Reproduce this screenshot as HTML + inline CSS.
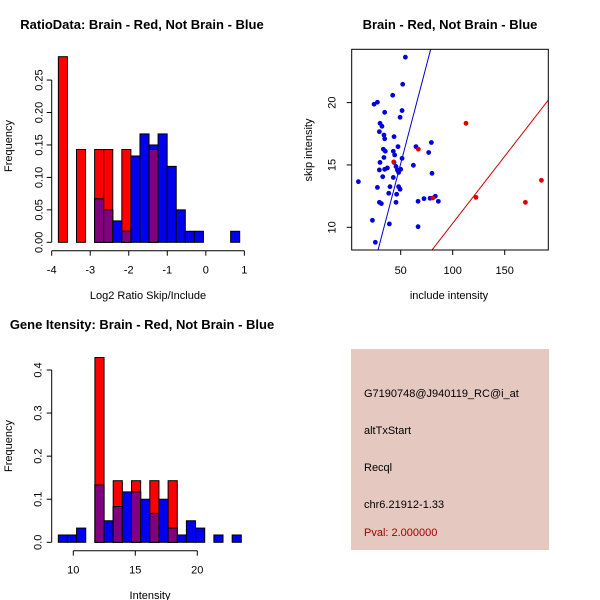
<!DOCTYPE html>
<html><head><meta charset="utf-8">
<style>
html,body{margin:0;padding:0;background:#fff;}
svg{display:block;font-family:"Liberation Sans",sans-serif;}
</style></head>
<body>
<svg id="c" width="600" height="600" viewBox="0 0 600 600" xmlns="http://www.w3.org/2000/svg">
<rect x="0" y="0" width="600" height="600" fill="#fff"/>
<g id="p1"></g>
<g id="p2"></g>
<g id="p3"></g>
<g>
<rect x="351" y="349" width="198" height="201" fill="#e5c8c0"/>
<text x="364" y="397" font-size="11" fill="#000">G7190748@J940119_RC@i_at</text>
<text x="364" y="434" font-size="11" fill="#000">altTxStart</text>
<text x="364" y="471" font-size="11" fill="#000">Recql</text>
<text x="364" y="508" font-size="11" fill="#000">chr6.21912-1.33</text>
<text x="364" y="536" font-size="11" fill="#a00000">Pval: 2.000000</text>
</g>
</svg>
<script>
// Panel 1 data: Log2 ratio histogram
const h1Start = -3.827, h1Width = 0.2353;
const h1Red  = [0.286,0,0.143,0,0.143,0.143,0,0.143,0,0,0.143,0,0,0,0,0,0,0,0,0];
const h1Blue = [0,0,0,0,0.067,0.05,0.033,0.017,0.133,0.167,0.15,0.167,0.117,0.05,0.017,0.017,0,0,0,0.017];
const h1XTicks = [-4,-3,-2,-1,0,1];
const h1YTicks = [0,0.05,0.10,0.15,0.20,0.25];
const h1YLabels = ["0.00","0.05","0.10","0.15","0.20","0.25"];
// Panel 2 data: scatter
const blueX = [9.3,22.8,25.6,24.4,27.6,27.6,29.5,31.4,29.5,30.1,29.5,30.1,32,33.9,34.6,33.3,35.2,33.9,34.6,37.2,32.7,39.7,38.5,39.1,34.6,42.3,51.9,54.5,51.3,49.4,43.6,47.4,42.9,44.2,43.6,51.3,45.5,46.8,50,48,42.9,48,49.4,46.1,45.5,62.2,64.7,76.9,79.5,80.1,66.7,72.4,78.2,83.3,86.2,66.7];
const blueY = [13.66,10.56,8.8,19.87,20.03,13.2,12.0,11.9,14.6,15.2,17.67,18.34,18.1,17.4,17.1,16.26,16.1,15.6,14.65,14.76,14.06,13.26,12.73,10.27,19.22,20.59,21.47,23.64,19.36,18.82,17.27,16.47,16.1,15.8,15.2,15.53,14.87,14.6,14.65,14.4,14.0,13.26,13.05,12.65,12.0,14.97,16.47,16.0,16.8,14.33,12.08,12.3,12.33,12.49,12.08,10.05];
const redX = [112.8,67,43.3,122.4,169.9,185.3,80.8];
const redY = [18.34,16.26,15.24,12.4,12.0,13.77,12.35];
const blueFit = [-0.79,0.318];
const redFit = [-0.43,0.1075];
const scXTicks = [50,100,150];
const scYTicks = [10,15,20];
// Panel 3 data: intensity histogram
const h3Start = 8.79, h3Width = 0.738;
const h3Red  = [0,0,0,0,0.429,0,0.143,0,0.143,0,0.143,0,0.143,0,0,0,0,0,0,0];
const h3Blue = [0.017,0.017,0.033,0,0.133,0.05,0.083,0.117,0.117,0.1,0.067,0.1,0.033,0.017,0.05,0.033,0,0.017,0,0.017];
const h3XTicks = [10,15,20];
const h3YTicks = [0,0.1,0.2,0.3,0.4];
const h3YLabels = ["0.0","0.1","0.2","0.3","0.4"];

const NS="http://www.w3.org/2000/svg";
function mk(parent,tag,attrs,txt){const e=document.createElementNS(NS,tag);for(const k in attrs)e.setAttribute(k,attrs[k]);if(txt!==undefined)e.textContent=txt;parent.appendChild(e);return e;}

function hist(g,cfg){
  const sx=v=>cfg.x0px+(v-cfg.x0)*cfg.kx, sy=v=>cfg.y0px-v*cfg.ky;
  const {start,width,red,blue}=cfg;
  for(let i=0;i<red.length;i++){
    const l=sx(start+i*width), r=sx(start+(i+1)*width);
    const rv=red[i], bv=blue[i];
    if(rv>0){const e=mk(g,'rect',{x:l,y:sy(rv),width:r-l,height:sy(0)-sy(rv),fill:'#ff0000',stroke:'#000','stroke-width':1});
      
      }
    if(bv>0){const e=mk(g,'rect',{x:l,y:sy(bv),width:r-l,height:sy(0)-sy(bv),fill:'#0000ee',stroke:'#000','stroke-width':1});
      
      }
    const m=Math.min(rv,bv);
    if(m>0){const e=mk(g,'rect',{x:l,y:sy(m),width:r-l,height:sy(0)-sy(m),fill:'#800080',stroke:'#000','stroke-width':1});
      
      }
  }
  const ay=cfg.axisY;
  mk(g,'line',{x1:sx(cfg.xt[0]),x2:sx(cfg.xt[cfg.xt.length-1]),y1:ay,y2:ay,stroke:'#000'});
  cfg.xt.forEach(t=>{mk(g,'line',{x1:sx(t),x2:sx(t),y1:ay,y2:ay+5,stroke:'#000'});
    const e=mk(g,'text',{x:sx(t),y:ay+23,'font-size':11,'text-anchor':'middle'},String(t));
    
    });
  const ax=cfg.axisX;
  mk(g,'line',{x1:ax,x2:ax,y1:sy(cfg.yt[0]),y2:sy(cfg.yt[cfg.yt.length-1]),stroke:'#000'});
  cfg.yt.forEach((t,i)=>{mk(g,'line',{x1:ax,x2:ax-5,y1:sy(t),y2:sy(t),stroke:'#000'});
    const lx=ax-cfg.lab;
    const e=mk(g,'text',{x:lx,y:sy(t),'font-size':11,'text-anchor':'middle',transform:`rotate(-90 ${lx} ${sy(t)})`},cfg.yl[i]);
    
    });
}

const p1=document.getElementById('p1');
hist(p1,{x0:-4,x0px:51.7,kx:38.53,y0px:242.3,ky:649,start:h1Start,width:h1Width,red:h1Red,blue:h1Blue,xt:h1XTicks,yt:h1YTicks,yl:h1YLabels,axisY:250.7,axisX:51.7,lab:9});
let t=mk(p1,'text',{x:142,y:29,'font-size':13,'font-weight':'bold','text-anchor':'middle'},'RatioData: Brain - Red, Not Brain - Blue');


t=mk(p1,'text',{x:148,y:299,'font-size':11,'text-anchor':'middle'},'Log2 Ratio Skip/Include');


t=mk(p1,'text',{x:12,y:146,'font-size':11,'text-anchor':'middle',transform:'rotate(-90 12 146)'},'Frequency');



const p3=document.getElementById('p3');
hist(p3,{x0:10,x0px:73.3,kx:12.4,y0px:542.3,ky:430.8,start:h3Start,width:h3Width,red:h3Red,blue:h3Blue,xt:h3XTicks,yt:h3YTicks,yl:h3YLabels,axisY:550.7,axisX:51.7,lab:10});
t=mk(p3,'text',{x:142,y:329,'font-size':13,'font-weight':'bold','text-anchor':'middle'},'Gene Itensity: Brain - Red, Not Brain - Blue');


t=mk(p3,'text',{x:150,y:599,'font-size':11,'text-anchor':'middle'},'Intensity');


t=mk(p3,'text',{x:12,y:446,'font-size':11,'text-anchor':'middle',transform:'rotate(-90 12 446)'},'Frequency');



// scatter
const p2=document.getElementById('p2');
const L=351.7,R=548.3,T=49.3,B=250;
const sx=v=>348.7+v*1.04, sy=v=>227.3-(v-10)*12.47;
mk(p2,'defs',{}).innerHTML='<clipPath id="clp"><rect x="'+L+'" y="'+T+'" width="'+(R-L)+'" height="'+(B-T)+'"/></clipPath>';
const bl=mk(p2,'line',{x1:sx(0),y1:sy(blueFit[0]),x2:sx(200),y2:sy(blueFit[0]+blueFit[1]*200),stroke:'#0000cc','clip-path':'url(#clp)'});


const rl=mk(p2,'line',{x1:sx(0),y1:sy(redFit[0]),x2:sx(200),y2:sy(redFit[0]+redFit[1]*200),stroke:'#cc0000','clip-path':'url(#clp)'});


blueX.forEach((x,i)=>{const c=mk(p2,'circle',{cx:sx(x),cy:sy(blueY[i]),r:2.4,fill:'#0000dd'});
  
  });
redX.forEach((x,i)=>{const c=mk(p2,'circle',{cx:sx(x),cy:sy(redY[i]),r:2.4,fill:'#dd0000'});
  
  });
mk(p2,'rect',{x:L,y:T,width:R-L,height:B-T,fill:'none',stroke:'#000'});
scXTicks.forEach(v=>{mk(p2,'line',{x1:sx(v),x2:sx(v),y1:B,y2:B+5,stroke:'#000'});
  const e=mk(p2,'text',{x:sx(v),y:B+24,'font-size':11,'text-anchor':'middle'},String(v));
  
  });
scYTicks.forEach(v=>{mk(p2,'line',{x1:L,x2:L-5,y1:sy(v),y2:sy(v),stroke:'#000'});
  const lx=L-16;
  const e=mk(p2,'text',{x:lx,y:sy(v),'font-size':11,'text-anchor':'middle',transform:`rotate(-90 ${lx} ${sy(v)})`},String(v));
  
  });
t=mk(p2,'text',{x:450,y:29,'font-size':13,'font-weight':'bold','text-anchor':'middle'},'Brain - Red, Not Brain - Blue');


t=mk(p2,'text',{x:449,y:299,'font-size':11,'text-anchor':'middle'},'include intensity');


t=mk(p2,'text',{x:312,y:150,'font-size':11,'text-anchor':'middle',transform:'rotate(-90 312 150)'},'skip intensity');


</script>
</body></html>
